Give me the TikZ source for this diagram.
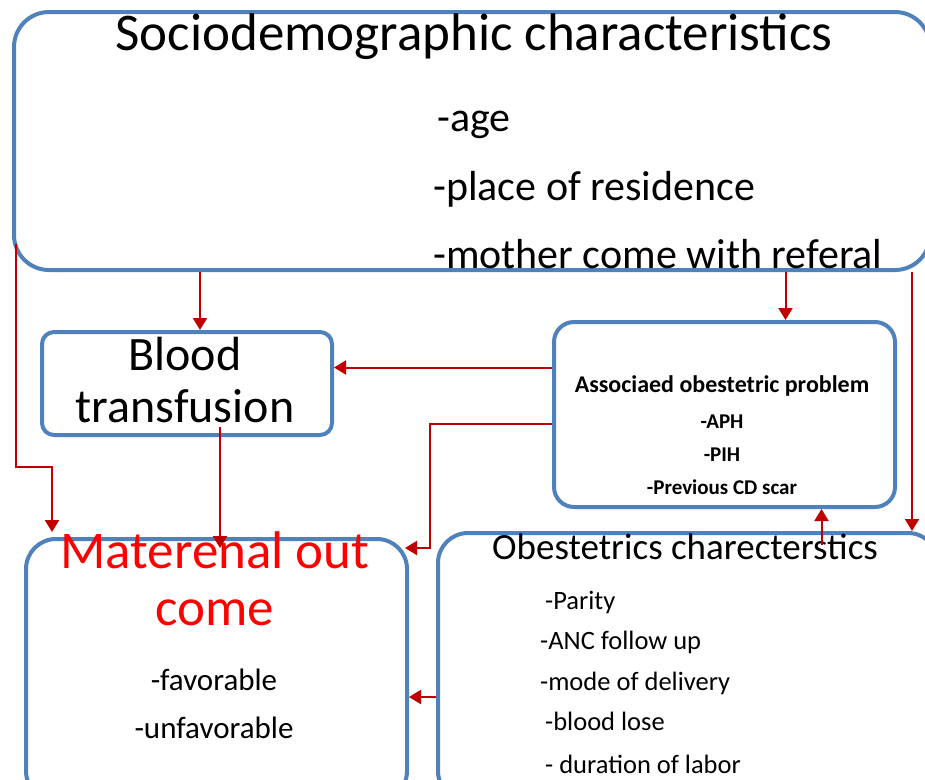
\documentclass[tikz,border=0pt]{standalone}
\usepackage{fontspec}
\setmainfont{Carlito}
\usepackage{xcolor}
\usetikzlibrary{arrows.meta,positioning,calc}
\definecolor{boxblue}{HTML}{4F81BD}
\definecolor{arrowred}{HTML}{C00000}

\begin{document}
\begin{tikzpicture}[x=1pt,y=-1pt,>=Triangle]
\tikzset{box/.style={draw=boxblue,line width=4pt,rounded corners=#1,fill=white,anchor=north west,inner sep=0pt}, box/.default=20pt,
 flow/.style={-{Triangle[length=12pt,width=14pt]},line width=2pt,color=arrowred},
 fs/.style={font=\fontsize{#1}{#1}\selectfont}, bfs/.style={font=\fontsize{#1}{#1}\selectfont\bfseries},
 txt/.style={inner sep=0pt,anchor=base}, item/.style={inner sep=0pt,anchor=base west}}
\clip (0,0) rectangle (925,779);
% boxes
\node[box=35pt,minimum width=916pt,minimum height=258pt] (socio) at (12,10) {};
\node[box=12pt,minimum width=290pt,minimum height=103pt] (blood) at (40,330) {};
\node[box=20pt,minimum width=341pt,minimum height=185pt] (assoc) at (552,320) {};
\node[box=30pt,minimum width=381pt,minimum height=262pt] (outcome) at (24,537) {};
\node[box=30pt,minimum width=500pt,minimum height=268pt] (obst) at (436,531) {};
% texts
\node[txt,fs=53] (sociotitle) at (474,50) {Sociodemographic characteristics};
\node[item,fs=42] (age) at (437,131) {-age};
\node[item,fs=42] (residence) at (433,200) {-place of residence};
\node[item,fs=42] (referal) at (433,268) {-mother come with referal};
\node[txt,fs=48] (bloodA) at (185,370) {Blood};
\node[txt,fs=48] (bloodB) at (185,422) {transfusion};
\node[txt,bfs=24] (assoctitle) at (722,392) {Associaed obestetric problem};
\node[txt,bfs=21] (aph) at (722,428) {-APH};
\node[txt,bfs=21] (pih) at (722,461) {-PIH};
\node[txt,bfs=21] (scar) at (722,494) {-Previous CD scar};
\node[txt,fs=53,text=red] (outA) at (215,568) {Materenal out};
\node[txt,fs=53,text=red] (outB) at (215,625) {come};
\node[txt,fs=31] (fav) at (214,690) {-favorable};
\node[txt,fs=31] (unfav) at (214,738) {-unfavorable};
\node[txt,fs=37] (obsttitle) at (685,559) {Obestetrics charecterstics};
\node[item,fs=26.5] (parity) at (545,609) {-Parity};
\node[item,fs=26.5] (anc) at (540,649) {-ANC follow up};
\node[item,fs=26.5] (mode) at (540,690) {-mode of delivery};
\node[item,fs=26.5] (lose) at (545,730) {-blood lose};
\node[item,fs=26.5] (labor) at (545,773) {- duration of labor};
% connectors
\draw[flow] ($(socio.south west)+(4,-28)$) |- ($(outcome.north west)+(28,-70)$) -- ($(outcome.north west)+(28,-5)$);
\draw[flow] ([xshift=13pt]blood.north |- socio.south) -- ([xshift=13pt]blood.north);
\draw[flow] ([xshift=61pt]assoc.north |- socio.south) -- ([xshift=61pt]assoc.north);
\draw[flow] ([xshift=224pt]obst.north |- socio.south) -- ([xshift=224pt]obst.north);
\draw[flow] ([yshift=47pt]assoc.west) -- ([yshift=47pt]assoc.west -| blood.east);
\draw[flow] ([yshift=-9pt]assoc.west) -- ++(-122,0) |- ([xshift=-4pt,yshift=122pt]outcome.east);
\draw[flow] ([xshift=33pt,yshift=10pt]blood.south) -- ([xshift=33pt,yshift=-11pt]blood.south |- outcome.north);
\draw[flow] ([xshift=97pt,yshift=-14pt]assoc.south |- obst.north) -- ([xshift=97pt]assoc.south);
\draw[flow] ([yshift=-30pt]obst.west) -- ([yshift=-30pt]obst.west -| outcome.east);
\end{tikzpicture}
\end{document}
